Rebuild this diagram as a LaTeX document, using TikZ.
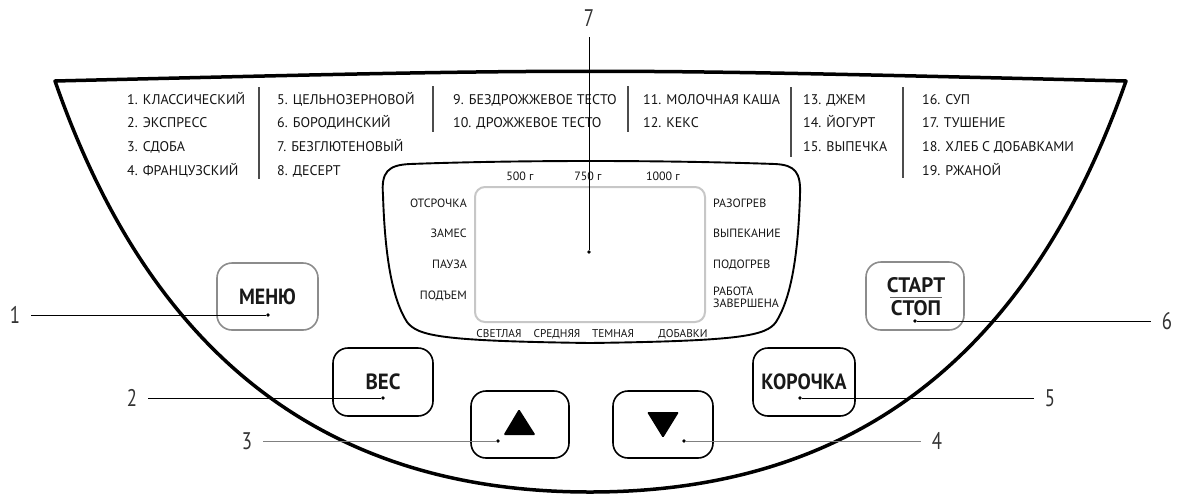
\documentclass[tikz,border=0pt]{standalone}
\usepackage{fontspec}
\setmainfont{PT Sans}
\usepackage{graphicx}
\begin{document}
\begin{tikzpicture}[x=1pt,y=-1pt,
  lst/.style={anchor=base west, inner sep=0pt, font=\fontsize{14}{16}\selectfont, text=black!92},
  sepline/.style={line width=1.2pt, draw=black!70},
  dl/.style={inner sep=0pt, text depth=0pt, font=\fontsize{12}{12.5}\selectfont, text=black!92},
  dlb/.style={inner sep=0pt, text depth=0pt, text height=8.2pt, font=\fontsize{11.3}{12}\selectfont, text=black!92},
  btn/.style={draw=black, line width=1.6pt, rounded corners=15pt, inner sep=0pt, font=\bfseries\fontsize{22}{24}\selectfont, text=black!90},
  metal/.style={draw=black!45},
  num/.style={inner sep=0pt, outer sep=11pt, text=black!80, font=\fontsize{24}{26}\selectfont},
  lead/.style={line width=0.8pt, draw=black},
  leadgray/.style={line width=0.9pt, draw=black!50},
  dotc/.style={circle, fill=black, inner sep=0pt, minimum size=3.6pt}]
\useasboundingbox (0,0) rectangle (1178,496);

% outer housing
\draw[line width=3.5pt, line join=round] (55,81) .. controls (590,68) .. (1126,81)
  .. controls (1028,360) and (850,492) .. (590,492)
  .. controls (330,492) and (152,360) .. (55,81) -- cycle;

% program list
\node[lst] (p1) at (127,104) {1. КЛАССИЧЕСКИЙ};
\node[lst] (p2) at (127,127) {2. ЭКСПРЕСС};
\node[lst] (p3) at (127,151) {3. СДОБА};
\node[lst] (p4) at (127,175) {4. ФРАНЦУЗСКИЙ};
\node[lst] (p5) at (277,104) {5. ЦЕЛЬНОЗЕРНОВОЙ};
\node[lst] (p6) at (277,127) {6. БОРОДИНСКИЙ};
\node[lst] (p7) at (277,151) {7. БЕЗГЛЮТЕНОВЫЙ};
\node[lst] (p8) at (277,175) {8. ДЕСЕРТ};
\node[lst] (p9) at (453,104) {9. БЕЗДРОЖЖЕВОЕ ТЕСТО};
\node[lst] (p10) at (453,127) {10. ДРОЖЖЕВОЕ ТЕСТО};
\node[lst] (p11) at (643,104) {11. МОЛОЧНАЯ КАША};
\node[lst] (p12) at (643,127) {12. КЕКС};
\node[lst] (p13) at (803,104) {13. ДЖЕМ};
\node[lst] (p14) at (803,127) {14. ЙОГУРТ};
\node[lst] (p15) at (803,151) {15. ВЫПЕЧКА};
\node[lst] (p16) at (922,104) {16. СУП};
\node[lst] (p17) at (922,127) {17. ТУШЕНИЕ};
\node[lst] (p18) at (922,151) {18. ХЛЕБ С ДОБАВКАМИ};
\node[lst] (p19) at (922,175) {19. РЖАНОЙ};
\draw[sepline] (259,87) -- (259,179);
\draw[sepline] (433,86) -- (433,132);
\draw[sepline] (628,86) -- (628,132);
\draw[sepline] (791,87) -- (791,157);
\draw[sepline] (903,87) -- (903,178);

% display bezel
\draw[line width=1.9pt, line join=round] (383,195) .. controls (381,172) and (388,165) .. (410,164)
  .. controls (520,160) and (660,160) .. (775,164)
  .. controls (795,165) and (801,172) .. (800,195)
  .. controls (798,260) and (790,300) .. (776,322)
  .. controls (766,336) and (740,341) .. (590,343)
  .. controls (440,341) and (418,336) .. (407,322)
  .. controls (393,300) and (385,260) .. (383,195) -- cycle;
% inner screen
\draw[line width=2pt, draw=black!22, rounded corners=10pt] (475,187) rectangle (705,322);

\node[dl] (w1) at (520,176) {500 г};
\node[dl] (w2) at (588,176) {750 г};
\node[dl] (w3) at (663,176) {1000 г};
\node[dl, anchor=east] (l1) at (467,203) {ОТСРОЧКА};
\node[dl, anchor=east] (l2) at (467,233) {ЗАМЕС};
\node[dl, anchor=east] (l3) at (467,264) {ПАУЗА};
\node[dl, anchor=east] (l4) at (467,295) {ПОДЪЕМ};
\node[dl, anchor=west] (r1) at (713,203) {РАЗОГРЕВ};
\node[dl, anchor=west] (r2) at (713,233) {ВЫПЕКАНИЕ};
\node[dl, anchor=west] (r3) at (713,264) {ПОДОГРЕВ};
\node[dl, anchor=west, align=left] (r4) at (713,297) {РАБОТА\\[-1pt]ЗАВЕРШЕНА};
\node[dlb] (b1) at (499,333) {СВЕТЛАЯ};
\node[dlb] (b2) at (557,333) {СРЕДНЯЯ};
\node[dlb] (b3) at (613,333) {ТЕМНАЯ};
\node[dlb] (b4) at (683,333) {ДОБАВКИ};

% buttons
\node[btn, metal, minimum width=101pt, minimum height=67pt] (menu) at (267.5,296.5) {\scalebox{0.9}[1]{МЕНЮ}};
\node[btn, minimum width=100pt, minimum height=68pt] (ves) at (383,382) {\scalebox{0.95}[1]{ВЕС}};
\node[btn, minimum width=98pt, minimum height=67pt] (up) at (520,424.5) {};
\node[btn, minimum width=100pt, minimum height=67pt] (down) at (663,424.5) {};
\node[btn, minimum width=102pt, minimum height=68pt] (krust) at (804,382) {\scalebox{0.9}[1]{КОРОЧКА}};
\node[btn, metal, minimum width=98pt, minimum height=68pt] (start) at (915,296) {};
\node[inner sep=0pt, font=\bfseries\fontsize{21}{23}\selectfont, text=black!90] (startt) at (916,285) {СТАРТ};
\node[inner sep=0pt, font=\bfseries\fontsize{21}{23}\selectfont, text=black!90] (stopt) at (916,308.5) {СТОП};
\draw[line width=1pt, draw=black!60] (890,297) -- (942,297);
\fill[rounded corners=1.2pt] (519,409) -- (535.5,435) -- (503.5,435) -- cycle;
\fill[rounded corners=1.2pt] (647,412) -- (679,412) -- (663,438) -- cycle;

% callout dots
\node[dotc] (d1) at (268,315) {};
\node[dotc] (d2) at (383,398) {};
\node[dotc] (d3) at (498,441) {};
\node[dotc] (d4) at (684,441) {};
\node[dotc] (d5) at (800,398) {};
\node[dotc] (d6) at (915,321) {};
\node[dotc] (d7) at (589,252) {};

% callout numbers
\node[num] (n1) at (15,315) {\scalebox{0.78}[1]{1}};
\node[num] (n2) at (132,398) {\scalebox{0.78}[1]{2}};
\node[num] (n3) at (247,441) {\scalebox{0.78}[1]{3}};
\node[num] (n4) at (937,441) {\scalebox{0.78}[1]{4}};
\node[num] (n5) at (1050,398) {\scalebox{0.78}[1]{5}};
\node[num] (n6) at (1167,321) {\scalebox{0.78}[1]{6}};
\node[num] (n7) at (589,18) {\scalebox{0.78}[1]{7}};

\draw[lead] (n1) -- (d1);
\draw[lead] (n2) -- (d2);
\draw[leadgray] (n3) -- (d3);
\draw[leadgray] (n4) -- (d4);
\draw[lead] (n5) -- (d5);
\draw[lead] (n6) -- (d6);
\draw[lead] (n7) -- (d7);
\end{tikzpicture}
\end{document}
